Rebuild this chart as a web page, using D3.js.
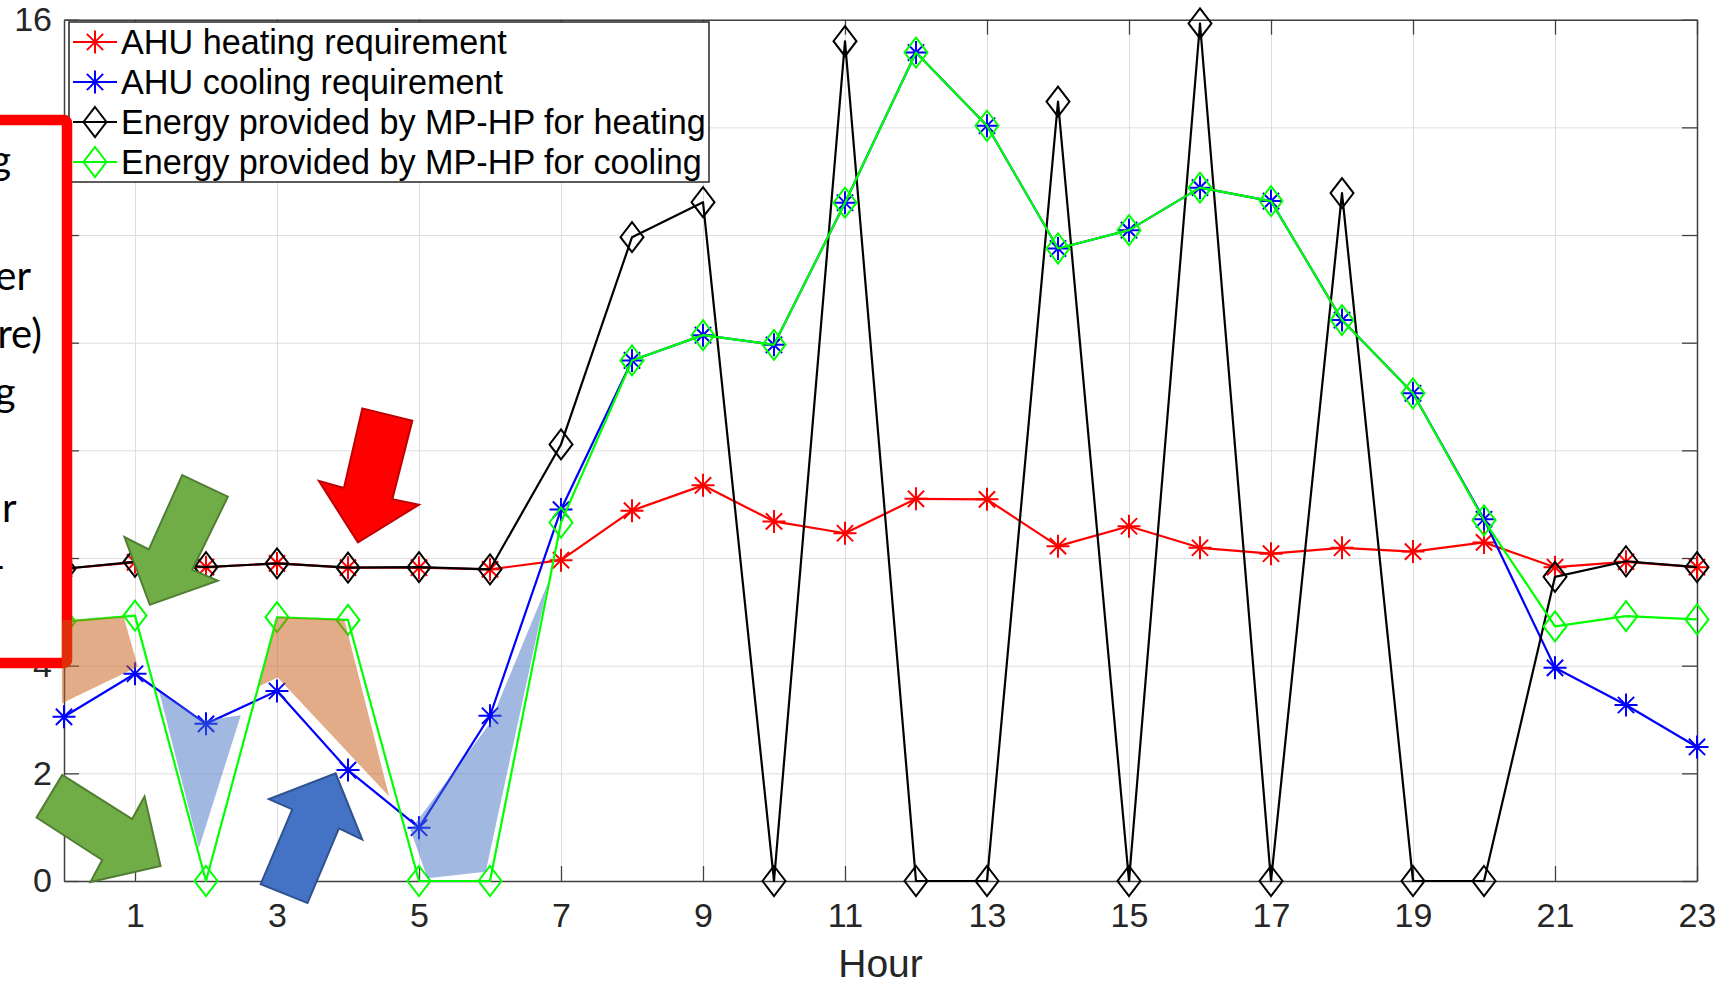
<!DOCTYPE html>
<html>
<head>
<meta charset="utf-8">
<script src="https://cdn.jsdelivr.net/npm/d3@7"></script>
<style>
  html, body { margin: 0; padding: 0; background: #fff; overflow: hidden; }
  svg { display: block; }
</style>
</head>
<body>
<svg id="chart" width="1729" height="987"></svg>
<script>
// ---- Hourly data ----------------------------------------------------------
const hours = [0, 1, 2, 3, 4, 5, 6, 7, 8, 9, 10, 11, 12, 13, 14, 15, 16, 17, 18, 19, 20, 21, 22, 23];

const ahuHeating = [5.80, 5.92, 5.83, 5.90, 5.82, 5.82, 5.79, 5.96, 6.88, 7.35, 6.68, 6.46,
                    7.10, 7.09, 6.22, 6.59, 6.19, 6.08, 6.19, 6.12, 6.29, 5.83, 5.93, 5.83];

const ahuCooling = [3.05, 3.85, 2.92, 3.53, 2.06, 0.99, 3.07, 6.90, 9.67, 10.14, 9.96, 12.60,
                    15.39, 14.03, 11.75, 12.09, 12.88, 12.63, 10.42, 9.06, 6.72, 3.96, 3.27, 2.49];

const mphpHeating = [5.80, 5.93, 5.83, 5.90, 5.82, 5.83, 5.79, 8.11, 11.96, 12.61, 0, 15.60,
                     0, 0, 14.48, 0, 15.93, 0, 12.78, 0, 0, 5.65, 5.94, 5.83];

const mphpCooling = [4.82, 4.93, 0, 4.90, 4.85, 0, 0, 6.66, 9.67, 10.14, 9.96, 12.60,
                     15.39, 14.03, 11.75, 12.09, 12.88, 12.63, 10.42, 9.06, 6.70, 4.73, 4.92, 4.86];

const seriesNames = [
  "AHU heating requirement",
  "AHU cooling requirement",
  "Energy provided by MP-HP for heating",
  "Energy provided by MP-HP for cooling"
];

const xTickValues = [1, 3, 5, 7, 9, 11, 13, 15, 17, 19, 21, 23];
const yTickValues = [0, 2, 4, 6, 8, 10, 12, 14, 16];
const xAxisTitle = "Hour";

// ---- Annotation shapes, in (hour, value) units ---------------------------
const surplusAreas = [          // orange: MP-HP cooling above requirement
  [[-0.03, 4.84], [0.84, 4.91], [1.04, 3.98], [-0.03, 3.30]],
  [[3.01, 4.90], [3.95, 4.85], [4.58, 1.57], [3.01, 3.78], [2.75, 3.62]]
];
const deficitAreas = [          // blue: MP-HP cooling below requirement
  [[1.34, 3.52], [1.97, 2.98], [2.49, 3.08], [1.90, 0.61]],
  [[4.88, 0.95], [6.00, 2.93], [6.82, 5.55], [5.94, 0.17], [5.12, 0.05]]
];
const greenArrowUpper = [[1.665, 7.54], [2.308, 7.14], [1.806, 5.78], [2.167, 5.58],
                         [1.209, 5.13], [0.852, 6.39], [1.195, 6.16]];
const greenArrowLower = [[-0.025, 1.97], [0.96, 1.15], [1.134, 1.57], [1.36, 0.28],
                         [0.373, -0.02], [0.538, 0.39], [-0.387, 1.18]];
const redArrow = [[4.202, 8.78], [4.906, 8.55], [4.624, 7.09], [4.999, 6.99],
                  [4.14, 6.29], [3.59, 7.43], [3.943, 7.30]];
const blueArrow = [[3.826, 2.0], [4.20, 0.77], [3.872, 0.98], [3.43, -0.41],
                   [2.77, -0.06], [3.215, 1.33], [2.886, 1.52]];
const noteLines = ["g", "", "er", "re)", "g", "", "r", "-"];

// ---- Layout ----------------------------------------------------------------
const svg = d3.select("#chart");
const plot = { left: 64, right: 1697, top: 19.7, bottom: 881 };
const FONT = '"Liberation Sans", Arial, Helvetica, sans-serif';
const AXIS_COLOR = "#404040";
const TICK_LEN = 15;

const x = d3.scaleLinear().domain([0, 23]).range([plot.left, plot.right]);
const y = d3.scaleLinear().domain([0, 16]).range([plot.bottom, plot.top]);

// ---- Grid ------------------------------------------------------------------
const grid = svg.append("g").attr("class", "grid");
grid.append("g")
  .attr("transform", `translate(0,${plot.bottom})`)
  .call(d3.axisBottom(x).tickValues(xTickValues)
        .tickSize(-(plot.bottom - plot.top)).tickFormat(""))
  .call(g => g.select(".domain").remove());
grid.append("g")
  .attr("transform", `translate(${plot.left},0)`)
  .call(d3.axisLeft(y).tickValues(yTickValues)
        .tickSize(-(plot.right - plot.left)).tickFormat(""))
  .call(g => g.select(".domain").remove());
grid.selectAll("line").attr("stroke", "#dedede").attr("stroke-width", 1);

// ---- Axes (box with inward ticks) -----------------------------------------
function styleAxis(g) {
  g.attr("font-family", FONT).attr("font-size", 34);
  g.select(".domain").attr("stroke", AXIS_COLOR).attr("stroke-width", 1.5);
  g.selectAll(".tick line").attr("stroke", AXIS_COLOR).attr("stroke-width", 1.3);
  g.selectAll(".tick text").attr("fill", "#262626");
}
svg.append("g")
  .attr("transform", `translate(0,${plot.bottom})`)
  .call(d3.axisBottom(x).tickValues(xTickValues)
        .tickSizeInner(-TICK_LEN).tickSizeOuter(0).tickPadding(22))
  .call(styleAxis);
svg.append("g")
  .attr("transform", `translate(${plot.left},0)`)
  .call(d3.axisLeft(y).tickValues(yTickValues)
        .tickSizeInner(-TICK_LEN).tickSizeOuter(0).tickPadding(12))
  .call(styleAxis);
svg.append("g")
  .attr("transform", `translate(0,${plot.top})`)
  .call(d3.axisTop(x).tickValues(xTickValues)
        .tickSizeInner(-TICK_LEN).tickSizeOuter(0).tickFormat(""))
  .call(styleAxis);
svg.append("g")
  .attr("transform", `translate(${plot.right},0)`)
  .call(d3.axisRight(y).tickValues(yTickValues)
        .tickSizeInner(-TICK_LEN).tickSizeOuter(0).tickFormat(""))
  .call(styleAxis);

svg.append("text")
  .attr("x", (plot.left + plot.right) / 2)
  .attr("y", 977)
  .attr("text-anchor", "middle")
  .attr("font-family", FONT)
  .attr("font-size", 39)
  .attr("fill", "#262626")
  .text(xAxisTitle);

// ---- Markers ---------------------------------------------------------------
function asteriskPath(r) {
  const k = r * Math.SQRT1_2;
  return `M${-r},0H${r}M0,${-r}V${r}M${-k},${-k}L${k},${k}M${-k},${k}L${k},${-k}`;
}
function diamondPath(hw, hh) {
  return `M0,${-hh}L${hw},0L0,${hh}L${-hw},0Z`;
}
const markerPaths = {
  asterisk: asteriskPath(11.5),
  diamond: diamondPath(11.5, 15)
};

const series = [
  { name: seriesNames[0], values: ahuHeating,  color: "#ff0000", marker: "asterisk" },
  { name: seriesNames[1], values: ahuCooling,  color: "#0000ff", marker: "asterisk" },
  { name: seriesNames[2], values: mphpHeating, color: "#000000", marker: "diamond" },
  { name: seriesNames[3], values: mphpCooling, color: "#00ff00", marker: "diamond" }
];

const line = d3.line()
  .x((d, i) => x(hours[i]))
  .y(d => y(d));

const dataLayer = svg.append("g").attr("class", "series");
series.forEach(s => {
  const g = dataLayer.append("g");
  g.append("path")
    .attr("d", line(s.values))
    .attr("fill", "none")
    .attr("stroke", s.color)
    .attr("stroke-width", 2.2)
    .attr("stroke-linejoin", "round");
  g.selectAll("path.mark")
    .data(s.values)
    .join("path")
    .attr("class", "mark")
    .attr("transform", (d, i) => `translate(${x(hours[i])},${y(d)})`)
    .attr("d", markerPaths[s.marker])
    .attr("fill", "none")
    .attr("stroke", s.color)
    .attr("stroke-width", 2);
});

// ---- Legend ----------------------------------------------------------------
const legend = svg.append("g").attr("class", "legend");
const legendBox = { x: 69, y: 22, w: 640, h: 160, rowTop: 42, rowStep: 40 };
legend.append("rect")
  .attr("x", legendBox.x).attr("y", legendBox.y)
  .attr("width", legendBox.w).attr("height", legendBox.h)
  .attr("fill", "#ffffff")
  .attr("stroke", "#262626")
  .attr("stroke-width", 1.5);
series.forEach((s, i) => {
  const cy = legendBox.rowTop + i * legendBox.rowStep;
  const row = legend.append("g").attr("transform", `translate(0,${cy})`);
  row.append("line")
    .attr("x1", 73).attr("x2", 117)
    .attr("stroke", s.color).attr("stroke-width", 2.2);
  row.append("path")
    .attr("transform", "translate(95,0)")
    .attr("d", markerPaths[s.marker])
    .attr("fill", "none")
    .attr("stroke", s.color)
    .attr("stroke-width", 2);
  row.append("text")
    .attr("x", 121)
    .attr("dy", "0.35em")
    .attr("font-family", FONT)
    .attr("font-size", 34.2)
    .attr("fill", "#000")
    .text(s.name);
});

// ---- Callouts drawn over the plot -----------------------------------------
const notes = svg.append("g").attr("class", "notes");

// Framed note box running off the left edge
const noteBox = notes.append("g");
noteBox.append("rect")
  .attr("x", -30).attr("y", 120)
  .attr("width", 97).attr("height", 543)
  .attr("rx", 3)
  .attr("fill", "#ffffff")
  .attr("stroke", "#ff0000")
  .attr("stroke-width", 10.5);
const noteRight = [11, 0, 31, 42, 15.5, 0, 16.5, 5];
noteBox.selectAll("text")
  .data(noteLines)
  .join("text")
  .attr("x", (d, i) => noteRight[i])
  .attr("y", (d, i) => 174 + i * 58)
  .attr("text-anchor", "end")
  .attr("font-family", "Lato, 'Open Sans', sans-serif")
  .attr("font-size", 40)
  .attr("fill", "#000")
  .text(d => d);

const toPoints = pts => pts.map(p => [x(p[0]), y(p[1])].join(",")).join(" ");

notes.selectAll("polygon.surplus")
  .data(surplusAreas)
  .join("polygon")
  .attr("class", "surplus")
  .attr("points", toPoints)
  .attr("fill", "rgba(197,90,17,0.5)");

notes.selectAll("polygon.deficit")
  .data(deficitAreas)
  .join("polygon")
  .attr("class", "deficit")
  .attr("points", toPoints)
  .attr("fill", "rgba(68,114,196,0.5)");

const arrows = [
  { pts: greenArrowUpper, fill: "#70ad47", stroke: "#507e32" },
  { pts: greenArrowLower, fill: "#70ad47", stroke: "#507e32" },
  { pts: redArrow,        fill: "#ff0000", stroke: "#c00000" },
  { pts: blueArrow,       fill: "#4472c4", stroke: "#2f528f" }
];
notes.selectAll("polygon.arrow")
  .data(arrows)
  .join("polygon")
  .attr("class", "arrow")
  .attr("points", d => toPoints(d.pts))
  .attr("fill", d => d.fill)
  .attr("stroke", d => d.stroke)
  .attr("stroke-width", 2)
  .attr("stroke-linejoin", "miter");
</script>
</body>
</html>
